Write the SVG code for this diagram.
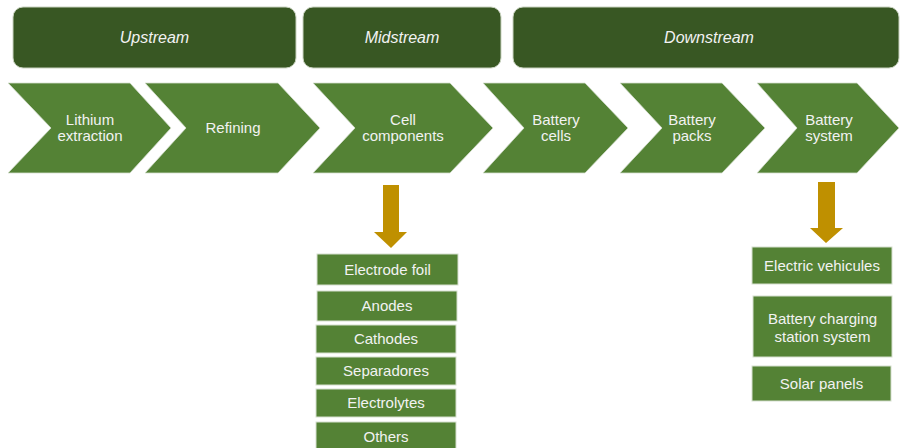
<svg xmlns="http://www.w3.org/2000/svg" width="902" height="448" viewBox="0 0 902 448">
<style>
.hdr{fill:#385723;stroke:#c9d3c0;stroke-width:1}
.chev{fill:#548235;stroke:#d6dfcf;stroke-width:0.8}
.box{fill:#548235;stroke:#d6dfcf;stroke-width:1}
.arr{fill:#bf9000}
text{font-family:"Liberation Sans",Arial,sans-serif;fill:#f2f2f2;text-anchor:middle;font-size:15px}
.ht{font-style:italic;font-size:16px}
</style>
<rect width="902" height="448" fill="#ffffff"/>
<g id="upstream"><rect class="hdr" x="13" y="7" width="283" height="61" rx="10"/><text class="ht" x="154.5" y="43">Upstream</text></g>
<g id="midstream"><rect class="hdr" x="303" y="7" width="198" height="61" rx="10"/><text class="ht" x="402" y="43">Midstream</text></g>
<g id="downstream"><rect class="hdr" x="513" y="7" width="386" height="61" rx="10"/><text class="ht" x="709" y="43">Downstream</text></g>

<g id="lithium"><polygon class="chev" points="8,83 130,83 171,128 130,173 8,173 51,128"/><text x="90" y="125">Lithium</text><text x="90" y="141">extraction</text></g>
<g id="refining"><polygon class="chev" points="145,83 278,83 320,128 278,173 145,173 186,128"/><text x="233" y="133">Refining</text></g>
<g id="cellcomp"><polygon class="chev" points="313,83 450,83 493,128 450,173 313,173 355,128"/><text x="403" y="125">Cell</text><text x="403" y="141">components</text></g>
<g id="cells"><polygon class="chev" points="483,83 585,83 628,128 585,173 483,173 524,128"/><text x="556" y="125">Battery</text><text x="556" y="141">cells</text></g>
<g id="packs"><polygon class="chev" points="620,83 722,83 765,128 722,173 620,173 662,128"/><text x="692" y="125">Battery</text><text x="692" y="141">packs</text></g>
<g id="system"><polygon class="chev" points="757,83 857,83 899,128 857,173 757,173 797,128"/><text x="829" y="125">Battery</text><text x="829" y="141">system</text></g>

<g id="connectors">
<polygon class="arr" points="383,185 399,185 399,232 407,232 391,248 374,232 383,232"/>
<polygon class="arr" points="818,182 835,182 835,228 843,228 826,243 810,228 818,228"/>
</g>

<g id="electrode"><rect class="box" x="317" y="254" width="141" height="31"/><text x="387.5" y="275">Electrode foil</text></g>
<g id="anodes"><rect class="box" x="317" y="291" width="140" height="30"/><text x="387" y="311">Anodes</text></g>
<g id="cathodes"><rect class="box" x="316" y="325" width="140" height="28"/><text x="386" y="344">Cathodes</text></g>
<g id="separadores"><rect class="box" x="316" y="357" width="140" height="28"/><text x="386" y="376">Separadores</text></g>
<g id="electrolytes"><rect class="box" x="316" y="389" width="140" height="28"/><text x="386" y="408">Electrolytes</text></g>
<g id="others"><rect class="box" x="316" y="422" width="140" height="30"/><text x="386" y="442">Others</text></g>

<g id="ev"><rect class="box" x="752" y="247" width="140" height="37"/><text x="822" y="271">Electric vehicules</text></g>
<g id="charging"><rect class="box" x="753" y="296" width="139" height="61"/><text x="822.5" y="324">Battery charging</text><text x="822.5" y="342">station system</text></g>
<g id="solar"><rect class="box" x="752" y="366" width="139" height="35"/><text x="821.5" y="389">Solar panels</text></g>
</svg>
